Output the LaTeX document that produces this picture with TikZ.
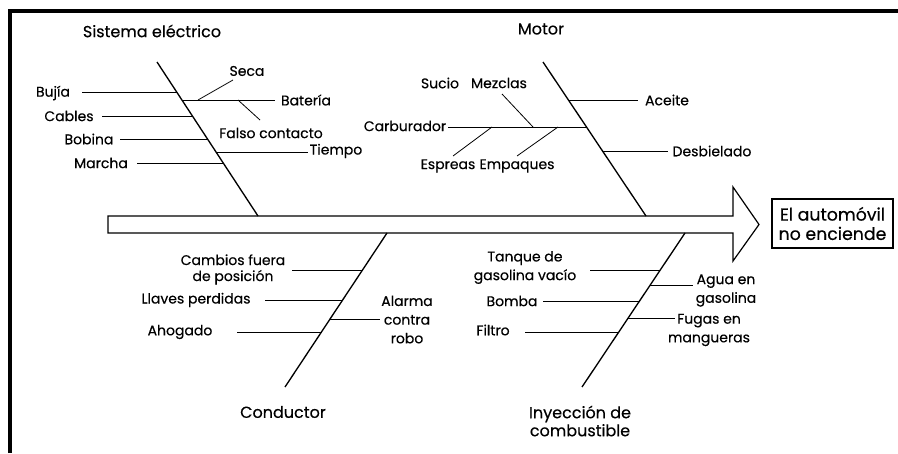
\documentclass[tikz,border=0pt]{standalone}
\usepackage{fontspec}
\setmainfont{Poppins}[FakeBold=0.35]
\begin{document}
\begin{tikzpicture}[x=0.75pt,y=-0.75pt,
  bone/.style={line width=1pt},
  twig/.style={line width=0.6pt},
  frame/.style={line width=2.4pt},
  lbl/.style={font=\fontsize{10.5}{14}\selectfont, inner sep=1pt, align=center},
  ttl/.style={font=\fontsize{12}{13.5}\selectfont, inner sep=1pt, align=center},
  effect/.style={draw, line width=0.8pt, minimum width=90.75pt, minimum height=36.75pt,
    inner sep=1pt, align=center, font=\fontsize{13}{14.5}\selectfont}
]
\useasboundingbox (0,0) rectangle (898,453);
% frame
\draw[frame] (10,453) -- (10,11) -- (898,11);

% main spine arrow
\coordinate (aTL) at (108,216);
\coordinate (aBL) at (108,233);
\draw[line width=0.9pt, line join=miter] (aTL) -- (733,216) -- (733,187) -- (759,224.5)
  -- (733,261) -- (733,233) -- (aBL) -- cycle;

% effect
\node[effect] (eff) at (832.5,223.5) {El automóvil\\no enciende};

% ---------- Sistema eléctrico ----------
\node[ttl] (tSis) at (152,31) {Sistema eléctrico};
\coordinate (sT) at (157,62);
\coordinate (sB) at (258,216);
\draw[bone] (sT) -- (sB);
\coordinate (sj1) at (176.7,92);
\coordinate (sj2) at (192.4,116);
\coordinate (sj3) at (207.5,139);
\coordinate (sj4) at (223.3,163);
\coordinate (sj5) at (181.9,100);
\coordinate (sj6) at (216,152);
\coordinate (bujiaE) at (82,92);
\coordinate (cablesE) at (102,116);
\coordinate (bobinaE) at (120,139);
\coordinate (marchaE) at (137,163);
\coordinate (batE) at (275,100);
\coordinate (secaA) at (198,100);
\coordinate (secaE) at (233,80);
\coordinate (falA) at (238,100);
\coordinate (falE) at (260,120);
\coordinate (tiempoE) at (308,152);
\node[lbl] (lBujia) at (53,93) {Bujía};
\node[lbl] (lCables) at (69,116) {Cables};
\node[lbl] (lBobina) at (89,139) {Bobina};
\node[lbl] (lMarcha) at (101,163) {Marcha};
\node[lbl] (lSeca) at (247,71) {Seca};
\node[lbl] (lBateria) at (306,100) {Batería};
\node[lbl] (lFalso) at (271,133) {Falso contacto};
\node[lbl] (lTiempo) at (336,151) {Tiempo};
\draw[twig] (bujiaE) -- (sj1);
\draw[twig] (cablesE) -- (sj2);
\draw[twig] (bobinaE) -- (sj3);
\draw[twig] (marchaE) -- (sj4);
\draw[twig] (sj5) -- (batE);
\draw[twig] (secaA) -- (secaE);
\draw[twig] (falA) -- (falE);
\draw[twig] (sj6) -- (tiempoE);

% ---------- Motor ----------
\node[ttl] (tMot) at (541,29) {Motor};
\coordinate (mT) at (543,62);
\coordinate (mB) at (646,216);
\draw[bone] (mT) -- (mB);
\coordinate (mj1) at (568.4,100);
\coordinate (mj2) at (586.5,127);
\coordinate (mj3) at (602.5,151);
\coordinate (aceE) at (638,100);
\coordinate (carbE) at (448,127);
\coordinate (desE) at (668,151);
\coordinate (mezA) at (533,127);
\coordinate (mezE) at (502,94);
\coordinate (espA) at (492,127);
\coordinate (espE) at (453,156);
\coordinate (empA) at (558,127);
\coordinate (empE) at (517,156);
\node[lbl] (lSucio) at (440,83) {Sucio};
\node[lbl] (lMezclas) at (499,83) {Mezclas};
\node[lbl] (lCarb) at (405,126) {Carburador};
\node[lbl] (lEsp) at (448,166) {Espreas};
\node[lbl] (lEmp) at (517,166) {Empaques};
\node[lbl] (lAceite) at (667,100) {Aceite};
\node[lbl] (lDes) at (712,151) {Desbielado};
\draw[twig] (mj1) -- (aceE);
\draw[twig] (carbE) -- (mj2);
\draw[twig] (mj3) -- (desE);
\draw[twig] (mezA) -- (mezE);
\draw[twig] (espA) -- (espE);
\draw[twig] (empA) -- (empE);

% ---------- Conductor ----------
\node[ttl] (tCon) at (283,412) {Conductor};
\coordinate (cT) at (387,233);
\coordinate (cB) at (285,387);
\draw[bone] (cT) -- (cB);
\coordinate (cj1) at (362.5,270);
\coordinate (cj2) at (342.6,300);
\coordinate (cj3) at (321.5,332);
\coordinate (cj4) at (330.1,319);
\coordinate (cambE) at (292,270);
\coordinate (llaE) at (265,300);
\coordinate (ahoE) at (237,332);
\coordinate (alaE) at (380,319);
\node[lbl] (lCamb) at (233,269.5) {Cambios fuera\\[-2pt]de posición};
\node[lbl] (lLla) at (196,300) {Llaves perdidas};
\node[lbl] (lAho) at (180,332) {Ahogado};
\node[lbl] (lAla) at (407,319.5) {Alarma\\contra\\robo};
\draw[twig] (cambE) -- (cj1);
\draw[twig] (llaE) -- (cj2);
\draw[twig] (ahoE) -- (cj3);
\draw[twig] (cj4) -- (alaE);

% ---------- Inyección de combustible ----------
\node[ttl] (tIny) at (580,421) {Inyección de\\combustible};
\coordinate (iT) at (685,233);
\coordinate (iB) at (582,387);
\draw[bone] (iT) -- (iB);
\coordinate (ij1) at (660.2,270);
\coordinate (ij2) at (639.5,301);
\coordinate (ij3) at (618.8,332);
\coordinate (ij4) at (650.2,285);
\coordinate (ij5) at (628.1,318);
\coordinate (tanE) at (590,270);
\coordinate (bomE) at (543,301);
\coordinate (filE) at (525,332);
\coordinate (aguE) at (693,285);
\coordinate (fugE) at (675,318);
\node[lbl] (lTan) at (525,267.5) {Tanque de\\gasolina vacío};
\node[lbl] (lBom) at (512,301) {Bomba};
\node[lbl] (lFil) at (493,330) {Filtro};
\node[lbl] (lAgu) at (726,290.5) {Agua en\\gasolina};
\node[lbl] (lFug) at (709,330) {Fugas en\\mangueras};
\draw[twig] (tanE) -- (ij1);
\draw[twig] (bomE) -- (ij2);
\draw[twig] (filE) -- (ij3);
\draw[twig] (ij4) -- (aguE);
\draw[twig] (ij5) -- (fugE);
\end{tikzpicture}
\end{document}
